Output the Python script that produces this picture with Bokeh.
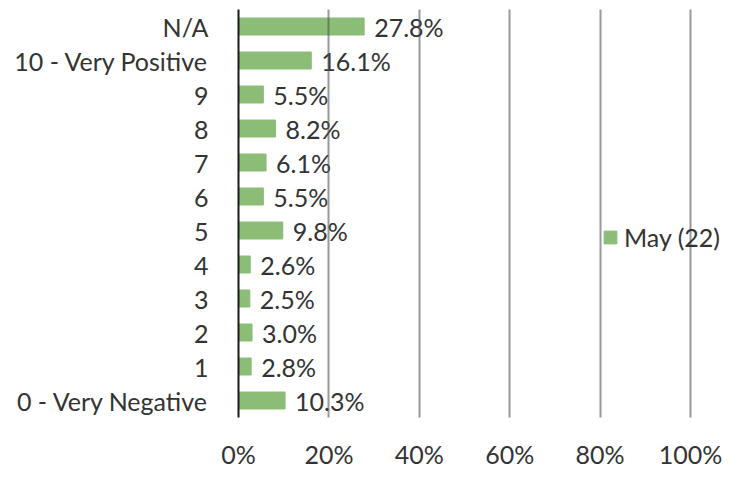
from bokeh.plotting import figure
from bokeh.models import FactorRange, Range1d, FixedTicker, PrintfTickFormatter, ColumnDataSource
from bokeh.core.properties import value
from bokeh.embed import file_html
from bokeh.resources import INLINE

# Data (top to bottom as shown)
categories = ["N/A", "10 - Very Positive", "9", "8", "7", "6", "5", "4", "3", "2", "1", "0 - Very Negative"]
values = [27.8, 16.1, 5.5, 8.2, 6.1, 5.5, 9.8, 2.6, 2.5, 3.0, 2.8, 10.3]
series_name = "May (22)"
x_ticks = [0, 20, 40, 60, 80, 100]

cats = categories[::-1]
vals = values[::-1]
labels = [f"{v:.1f}%" for v in vals]
src = ColumnDataSource(dict(cat=cats, val=vals, label=labels))

FONT = "Lato"
FS = "25px"
TXT = "#333333"
GREEN = "#8bbd77"

W, H = 723, 471
LEFT, TOP, BOTTOM = 238, 9, 46
X_END = 107.3

p = figure(width=W, height=H, y_range=FactorRange(factors=cats, range_padding=0),
           x_range=Range1d(0, X_END), output_backend="svg", toolbar_location=None,
           min_border_left=LEFT, min_border_right=0, min_border_top=TOP, min_border_bottom=BOTTOM)
p.outline_line_color = None

p.hbar(y="cat", right="val", left=0, height=0.5, color=GREEN, source=src, legend_label=series_name)
p.text(x="val", y="cat", text="label", source=src, x_offset=10, text_align="left",
       text_baseline="middle", text_font=value(FONT), text_font_size=FS, text_color=TXT)

p.ygrid.grid_line_color = None
p.xgrid.ticker = FixedTicker(ticks=x_ticks[1:])
p.xgrid.grid_line_color = "#555555"
p.xgrid.grid_line_alpha = 0.6
p.xgrid.grid_line_width = 2
p.xgrid.level = "overlay"

p.xaxis.ticker = FixedTicker(ticks=x_ticks)
p.xaxis.formatter = PrintfTickFormatter(format="%d%%")
p.xaxis.axis_line_color = None
p.xaxis.major_tick_line_color = None
p.xaxis.minor_tick_line_color = None
p.xaxis.major_label_standoff = 15
p.xaxis.major_label_text_font = FONT
p.xaxis.major_label_text_font_size = FS
p.xaxis.major_label_text_color = TXT

p.yaxis.axis_line_color = "#1a1a1a"
p.yaxis.axis_line_width = 2
p.yaxis.major_tick_line_color = None
p.yaxis.minor_tick_line_color = None
p.yaxis.major_label_standoff = 24
p.yaxis.major_label_text_font = FONT
p.yaxis.major_label_text_font_size = FS
p.yaxis.major_label_text_color = TXT

lg = p.legend[0]
lg.location = (364, 165)
lg.padding = 0
lg.margin = 0
lg.glyph_width = 16
lg.glyph_height = 16
lg.label_standoff = 6
lg.label_text_font = FONT
lg.label_text_font_size = FS
lg.label_text_color = TXT
lg.background_fill_alpha = 0
lg.border_line_color = None

open("out.html", "w").write(file_html(p, INLINE))
